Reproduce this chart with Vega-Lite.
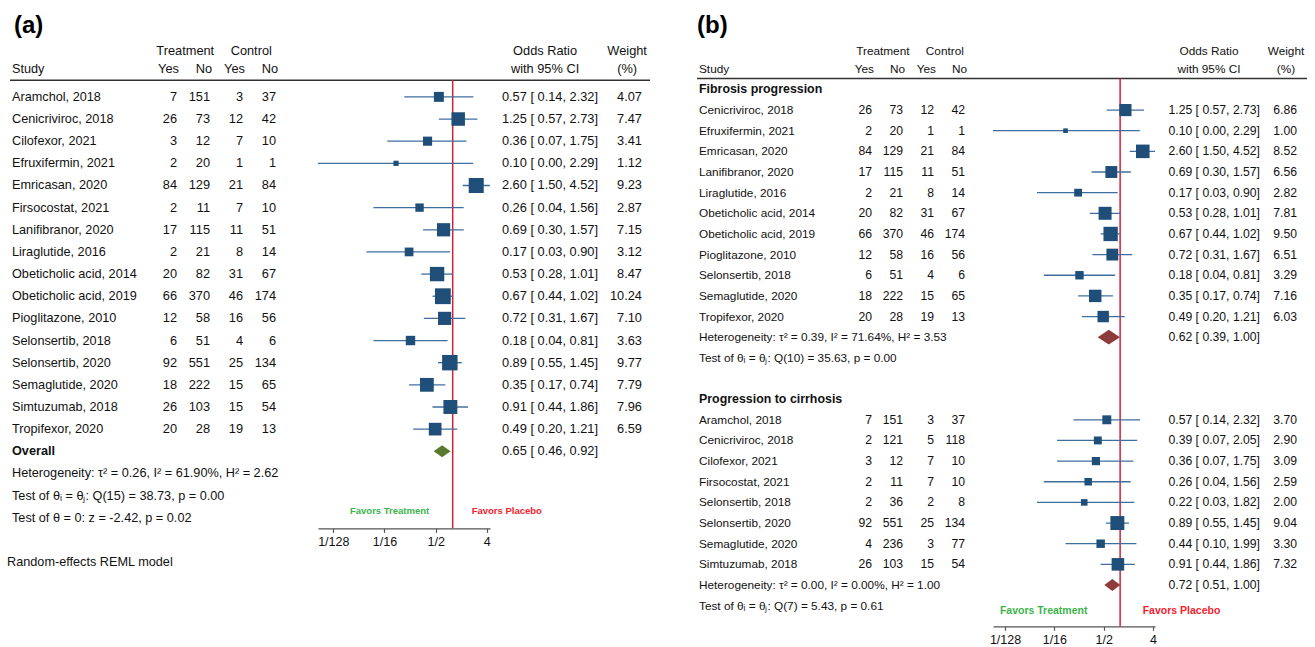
{
"$schema":"https://vega.github.io/schema/vega-lite/v6.json",
"padding":{"left":7,"top":13.5,"right":0,"bottom":0},
"background":"white",
"spacing":45,
"resolve":{"scale":{"size":"independent","color":"independent"}},
"config":{"font":"Liberation Sans","view":{"stroke":null},"text":{"font":"Liberation Sans","color":"#111"},
"title":{"font":"Liberation Sans","fontSize":24,"fontWeight":"bold","anchor":"start","color":"#000","frame":"group"},
"axis":{"labelFont":"Liberation Sans","labelFontSize":12.5,"labelColor":"#111","domainColor":"#555","tickColor":"#555","tickSize":4,"grid":false,"labelPadding":3,"domainWidth":1.2,"tickWidth":1.2}},
"datasets":{
"a":[
{"row":0,"type":"study","label":"Aramchol, 2018","tYes":7,"tNo":151,"cYes":3,"cNo":37,"est":0.57,"lo":0.14,"hi":2.32,"w":4.07},
{"row":1,"type":"study","label":"Cenicriviroc, 2018","tYes":26,"tNo":73,"cYes":12,"cNo":42,"est":1.25,"lo":0.57,"hi":2.73,"w":7.47},
{"row":2,"type":"study","label":"Cilofexor, 2021","tYes":3,"tNo":12,"cYes":7,"cNo":10,"est":0.36,"lo":0.07,"hi":1.75,"w":3.41},
{"row":3,"type":"study","label":"Efruxifermin, 2021","tYes":2,"tNo":20,"cYes":1,"cNo":1,"est":0.10,"lo":0.004,"hi":2.29,"w":1.12},
{"row":4,"type":"study","label":"Emricasan, 2020","tYes":84,"tNo":129,"cYes":21,"cNo":84,"est":2.60,"lo":1.50,"hi":4.52,"w":9.23},
{"row":5,"type":"study","label":"Firsocostat, 2021","tYes":2,"tNo":11,"cYes":7,"cNo":10,"est":0.26,"lo":0.04,"hi":1.56,"w":2.87},
{"row":6,"type":"study","label":"Lanifibranor, 2020","tYes":17,"tNo":115,"cYes":11,"cNo":51,"est":0.69,"lo":0.30,"hi":1.57,"w":7.15},
{"row":7,"type":"study","label":"Liraglutide, 2016","tYes":2,"tNo":21,"cYes":8,"cNo":14,"est":0.17,"lo":0.03,"hi":0.90,"w":3.12},
{"row":8,"type":"study","label":"Obeticholic acid, 2014","tYes":20,"tNo":82,"cYes":31,"cNo":67,"est":0.53,"lo":0.28,"hi":1.01,"w":8.47},
{"row":9,"type":"study","label":"Obeticholic acid, 2019","tYes":66,"tNo":370,"cYes":46,"cNo":174,"est":0.67,"lo":0.44,"hi":1.02,"w":10.24},
{"row":10,"type":"study","label":"Pioglitazone, 2010","tYes":12,"tNo":58,"cYes":16,"cNo":56,"est":0.72,"lo":0.31,"hi":1.67,"w":7.10},
{"row":11,"type":"study","label":"Selonsertib, 2018","tYes":6,"tNo":51,"cYes":4,"cNo":6,"est":0.18,"lo":0.04,"hi":0.81,"w":3.63},
{"row":12,"type":"study","label":"Selonsertib, 2020","tYes":92,"tNo":551,"cYes":25,"cNo":134,"est":0.89,"lo":0.55,"hi":1.45,"w":9.77},
{"row":13,"type":"study","label":"Semaglutide, 2020","tYes":18,"tNo":222,"cYes":15,"cNo":65,"est":0.35,"lo":0.17,"hi":0.74,"w":7.79},
{"row":14,"type":"study","label":"Simtuzumab, 2018","tYes":26,"tNo":103,"cYes":15,"cNo":54,"est":0.91,"lo":0.44,"hi":1.86,"w":7.96},
{"row":15,"type":"study","label":"Tropifexor, 2020","tYes":20,"tNo":28,"cYes":19,"cNo":13,"est":0.49,"lo":0.20,"hi":1.21,"w":6.59},
{"row":16,"type":"overall","label":"Overall","est":0.65,"lo":0.46,"hi":0.92},
{"row":17,"type":"note","label":"Heterogeneity: τ² = 0.26, I² = 61.90%, H² = 2.62"},
{"row":18,"type":"note","label":"Test of θᵢ = θⱼ: Q(15) = 38.73, p = 0.00"},
{"row":19,"type":"note","label":"Test of θ = 0: z = -2.42, p = 0.02"},
{"row":21,"type":"model","label":"Random-effects REML model"}
],
"b":[
{"row":0,"type":"group","label":"Fibrosis progression"},
{"row":1,"type":"study","label":"Cenicriviroc, 2018","tYes":26,"tNo":73,"cYes":12,"cNo":42,"est":1.25,"lo":0.57,"hi":2.73,"w":6.86},
{"row":2,"type":"study","label":"Efruxifermin, 2021","tYes":2,"tNo":20,"cYes":1,"cNo":1,"est":0.10,"lo":0.004,"hi":2.29,"w":1.00},
{"row":3,"type":"study","label":"Emricasan, 2020","tYes":84,"tNo":129,"cYes":21,"cNo":84,"est":2.60,"lo":1.50,"hi":4.52,"w":8.52},
{"row":4,"type":"study","label":"Lanifibranor, 2020","tYes":17,"tNo":115,"cYes":11,"cNo":51,"est":0.69,"lo":0.30,"hi":1.57,"w":6.56},
{"row":5,"type":"study","label":"Liraglutide, 2016","tYes":2,"tNo":21,"cYes":8,"cNo":14,"est":0.17,"lo":0.03,"hi":0.90,"w":2.82},
{"row":6,"type":"study","label":"Obeticholic acid, 2014","tYes":20,"tNo":82,"cYes":31,"cNo":67,"est":0.53,"lo":0.28,"hi":1.01,"w":7.81},
{"row":7,"type":"study","label":"Obeticholic acid, 2019","tYes":66,"tNo":370,"cYes":46,"cNo":174,"est":0.67,"lo":0.44,"hi":1.02,"w":9.50},
{"row":8,"type":"study","label":"Pioglitazone, 2010","tYes":12,"tNo":58,"cYes":16,"cNo":56,"est":0.72,"lo":0.31,"hi":1.67,"w":6.51},
{"row":9,"type":"study","label":"Selonsertib, 2018","tYes":6,"tNo":51,"cYes":4,"cNo":6,"est":0.18,"lo":0.04,"hi":0.81,"w":3.29},
{"row":10,"type":"study","label":"Semaglutide, 2020","tYes":18,"tNo":222,"cYes":15,"cNo":65,"est":0.35,"lo":0.17,"hi":0.74,"w":7.16},
{"row":11,"type":"study","label":"Tropifexor, 2020","tYes":20,"tNo":28,"cYes":19,"cNo":13,"est":0.49,"lo":0.20,"hi":1.21,"w":6.03},
{"row":12,"type":"sub","label":"Heterogeneity: τ² = 0.39, I² = 71.64%, H² = 3.53","est":0.62,"lo":0.39,"hi":1.00},
{"row":13,"type":"note","label":"Test of θᵢ = θⱼ: Q(10) = 35.63, p = 0.00"},
{"row":15,"type":"group","label":"Progression to cirrhosis"},
{"row":16,"type":"study","label":"Aramchol, 2018","tYes":7,"tNo":151,"cYes":3,"cNo":37,"est":0.57,"lo":0.14,"hi":2.32,"w":3.70},
{"row":17,"type":"study","label":"Cenicriviroc, 2018","tYes":2,"tNo":121,"cYes":5,"cNo":118,"est":0.39,"lo":0.07,"hi":2.05,"w":2.90},
{"row":18,"type":"study","label":"Cilofexor, 2021","tYes":3,"tNo":12,"cYes":7,"cNo":10,"est":0.36,"lo":0.07,"hi":1.75,"w":3.09},
{"row":19,"type":"study","label":"Firsocostat, 2021","tYes":2,"tNo":11,"cYes":7,"cNo":10,"est":0.26,"lo":0.04,"hi":1.56,"w":2.59},
{"row":20,"type":"study","label":"Selonsertib, 2018","tYes":2,"tNo":36,"cYes":2,"cNo":8,"est":0.22,"lo":0.03,"hi":1.82,"w":2.00},
{"row":21,"type":"study","label":"Selonsertib, 2020","tYes":92,"tNo":551,"cYes":25,"cNo":134,"est":0.89,"lo":0.55,"hi":1.45,"w":9.04},
{"row":22,"type":"study","label":"Semaglutide, 2020","tYes":4,"tNo":236,"cYes":3,"cNo":77,"est":0.44,"lo":0.10,"hi":1.99,"w":3.30},
{"row":23,"type":"study","label":"Simtuzumab, 2018","tYes":26,"tNo":103,"cYes":15,"cNo":54,"est":0.91,"lo":0.44,"hi":1.86,"w":7.32},
{"row":24,"type":"sub","label":"Heterogeneity: τ² = 0.00, I² = 0.00%, H² = 1.00","est":0.72,"lo":0.51,"hi":1.00},
{"row":25,"type":"note","label":"Test of θᵢ = θⱼ: Q(7) = 5.43, p = 0.61"}
],
"favA":[{"h":"Favors Treatment","x":0.077},{"h":"Favors Placebo","x":9.0}],
"favB":[{"h":"Favors Treatment","x":0.0398},{"h":"Favors Placebo","x":13.3}],
"one":[{}]
},
"hconcat":[
{"title":{"text":"(a)","dx":4},"spacing":0,"bounds":"flush","resolve":{"scale":{"size":"independent","color":"independent"}},
"hconcat":[
{"width":134,"height":531.6,"layer":[
{"data":{"name":"a"},"transform":[{"filter":"datum.type=='study' || datum.type=='note'"}],"mark":{"type":"text","align":"left","baseline":"middle","fontSize":12.7,"dx":2},
"encoding":{"x":{"datum":0,"type":"quantitative","scale":{"domain":[0,1],"nice":false,"zero":false},"axis":null},"y":{"field":"row","type":"quantitative","scale":{"domain":[-2.5,21.5],"reverse":true,"nice":false,"zero":false},"axis":null},"text":{"field":"label"}}},
{"data":{"name":"a"},"transform":[{"filter":"datum.type=='overall'"}],"mark":{"type":"text","align":"left","baseline":"middle","fontSize":12.7,"fontWeight":"bold","dx":2},
"encoding":{"x":{"datum":0,"type":"quantitative","scale":{"domain":[0,1],"nice":false,"zero":false},"axis":null},"y":{"field":"row","type":"quantitative","scale":{"domain":[-2.5,21.5],"reverse":true,"nice":false,"zero":false},"axis":null},"text":{"field":"label"}}},
{"data":{"name":"a"},"transform":[{"filter":"datum.type=='model'"}],"mark":{"type":"text","align":"left","baseline":"middle","fontSize":12.7,"dx":-3},
"encoding":{"x":{"datum":0,"type":"quantitative","scale":{"domain":[0,1],"nice":false,"zero":false},"axis":null},"y":{"field":"row","type":"quantitative","scale":{"domain":[-2.5,21.5],"reverse":true,"nice":false,"zero":false},"axis":null},"text":{"field":"label"}}},
{"data":{"name":"one"},"mark":{"type":"text","align":"left","baseline":"middle","fontSize":12.7,"dx":2},
"encoding":{"x":{"datum":0,"type":"quantitative","scale":{"domain":[0,1],"nice":false,"zero":false},"axis":null},"y":{"datum":-1.24,"type":"quantitative","scale":{"domain":[-2.5,21.5],"reverse":true,"nice":false,"zero":false},"axis":null},"text":{"value":"Study"}}},
{"data":{"name":"one"},"mark":{"type":"rule","color":"#333","strokeWidth":1.5},
"encoding":{"y":{"datum":-0.745,"type":"quantitative","scale":{"domain":[-2.5,21.5],"reverse":true,"nice":false,"zero":false},"axis":null}}}
]},
{"width":174,"height":531.6,"layer":[
{"data":{"name":"a"},"transform":[{"filter":"datum.type=='study'"},{"fold":["tYes","tNo","cYes","cNo"],"as":["col","n"]}],"mark":{"type":"text","align":"right","baseline":"middle","fontSize":12.8},
"encoding":{"x":{"field":"col","type":"nominal","bandPosition":1,"scale":{"type":"band","domain":["tYes","tNo","cYes","cNo"],"paddingInner":0,"paddingOuter":0.636,"align":0},"axis":null},"y":{"field":"row","type":"quantitative","scale":{"domain":[-2.5,21.5],"reverse":true,"nice":false,"zero":false},"axis":null},"text":{"field":"n","type":"quantitative"}}},
{"data":{"values":[{"col":"tYes","h":"Yes"},{"col":"tNo","h":"No"},{"col":"cYes","h":"Yes"},{"col":"cNo","h":"No"}]},"mark":{"type":"text","align":"right","baseline":"middle","fontSize":12.8,"dx":2},
"encoding":{"x":{"field":"col","type":"nominal","bandPosition":1,"scale":{"type":"band","domain":["tYes","tNo","cYes","cNo"],"paddingInner":0,"paddingOuter":0.636,"align":0},"axis":null},"y":{"datum":-1.24,"type":"quantitative","scale":{"domain":[-2.5,21.5],"reverse":true,"nice":false,"zero":false},"axis":null},"text":{"field":"h"}}},
{"data":{"values":[{"col":"tNo","h":"Treatment"},{"col":"cNo","h":"Control"}]},"mark":{"type":"text","align":"center","baseline":"middle","fontSize":12.8},
"encoding":{"x":{"field":"col","type":"nominal","bandPosition":0.25,"scale":{"type":"band","domain":["tYes","tNo","cYes","cNo"],"paddingInner":0,"paddingOuter":0.636,"align":0},"axis":null},"y":{"datum":-2.05,"type":"quantitative","scale":{"domain":[-2.5,21.5],"reverse":true,"nice":false,"zero":false},"axis":null},"text":{"field":"h"}}},
{"data":{"name":"one"},"mark":{"type":"rule","color":"#333","strokeWidth":1.5},
"encoding":{"y":{"datum":-0.745,"type":"quantitative","scale":{"domain":[-2.5,21.5],"reverse":true,"nice":false,"zero":false},"axis":null}}}
]},
{"width":172,"height":486.86,"layer":[
{"data":{"name":"one"},"mark":{"type":"rule","color":"#333","strokeWidth":1.5},
"encoding":{"y":{"datum":-0.745,"type":"quantitative","scale":{"domain":[-2.5,19.48],"reverse":true,"nice":false,"zero":false},"axis":null}}},
{"data":{"name":"one"},"mark":{"type":"rule","color":"#d0213b","strokeWidth":1.5},
"encoding":{"x":{"datum":1,"type":"quantitative","scale":{"type":"log","base":2,"domain":[0.0042,4.55],"nice":false},"axis":{"values":[0.0078125,0.0625,0.5,4],"labelExpr":"datum.value < 0.01 ? '1/128' : (datum.value < 0.1 ? '1/16' : (datum.value < 1 ? '1/2' : '4'))","title":null,"labelFlush":false,"labelOverlap":false}},
"y":{"datum":-0.745,"type":"quantitative","scale":{"domain":[-2.5,19.48],"reverse":true,"nice":false,"zero":false},"axis":null},"y2":{"datum":19.48}}},
{"data":{"name":"a"},"transform":[{"filter":"datum.type=='study'"}],"mark":{"type":"rule","color":"#3f6e9e","strokeWidth":1.3,"clip":true},
"encoding":{"x":{"field":"lo","type":"quantitative","scale":{"type":"log","base":2,"domain":[0.0042,4.55],"nice":false}},"x2":{"field":"hi"},"y":{"field":"row","type":"quantitative","scale":{"domain":[-2.5,19.48],"reverse":true,"nice":false,"zero":false},"axis":null}}},
{"data":{"name":"a"},"transform":[{"filter":"datum.type=='study'"}],"mark":{"type":"point","shape":"square","filled":true,"opacity":1,"color":"#1f4e79"},
"encoding":{"x":{"field":"est","type":"quantitative","scale":{"type":"log","base":2,"domain":[0.0042,4.55],"nice":false}},"y":{"field":"row","type":"quantitative","scale":{"domain":[-2.5,19.48],"reverse":true,"nice":false,"zero":false},"axis":null},"size":{"field":"w","type":"quantitative","scale":{"domain":[0,10.24],"range":[0,250],"zero":true},"legend":null}}},
{"data":{"name":"a"},"transform":[{"filter":"datum.type=='overall'"}],"mark":{"type":"point","shape":"M-1,0L0,-0.7L1,0L0,0.7Z","filled":true,"opacity":1,"color":"#5b7a2e","size":289},
"encoding":{"x":{"field":"est","type":"quantitative","scale":{"type":"log","base":2,"domain":[0.0042,4.55],"nice":false}},"y":{"field":"row","type":"quantitative","scale":{"domain":[-2.5,19.48],"reverse":true,"nice":false,"zero":false},"axis":null}}},
{"data":{"name":"favA"},"mark":{"type":"text","fontSize":9.5,"fontWeight":"bold","baseline":"middle","align":"center"},
"encoding":{"x":{"field":"x","type":"quantitative","scale":{"type":"log","base":2,"domain":[0.0042,4.55],"nice":false}},"y":{"datum":18.71,"type":"quantitative","scale":{"domain":[-2.5,19.48],"reverse":true,"nice":false,"zero":false},"axis":null},"text":{"field":"h"},"color":{"field":"h","type":"nominal","scale":{"domain":["Favors Treatment","Favors Placebo"],"range":["#3ab54a","#f5222d"]},"legend":null}}}
]},
{"width":108,"height":531.6,"layer":[
{"data":{"name":"a"},"transform":[{"filter":"datum.type=='study' || datum.type=='overall'"},{"calculate":"format(datum.est,'.2f') + ' [  ' + format(datum.lo,'.2f') + ',  ' + format(datum.hi,'.2f') + ']'","as":"ci"}],"mark":{"type":"text","align":"right","baseline":"middle","fontSize":12.8},
"encoding":{"x":{"datum":1,"type":"quantitative","scale":{"domain":[0,1],"nice":false,"zero":false},"axis":null},"y":{"field":"row","type":"quantitative","scale":{"domain":[-2.5,21.5],"reverse":true,"nice":false,"zero":false},"axis":null},"text":{"field":"ci"}}},
{"data":{"values":[{"h":"Odds Ratio","r":-2.05},{"h":"with 95% CI","r":-1.24}]},"mark":{"type":"text","align":"center","baseline":"middle","fontSize":12.8},
"encoding":{"x":{"datum":0.51,"type":"quantitative","scale":{"domain":[0,1],"nice":false,"zero":false},"axis":null},"y":{"field":"r","type":"quantitative","scale":{"domain":[-2.5,21.5],"reverse":true,"nice":false,"zero":false},"axis":null},"text":{"field":"h"}}},
{"data":{"name":"one"},"mark":{"type":"rule","color":"#333","strokeWidth":1.5},
"encoding":{"y":{"datum":-0.745,"type":"quantitative","scale":{"domain":[-2.5,21.5],"reverse":true,"nice":false,"zero":false},"axis":null}}}
]},
{"width":52,"height":531.6,"layer":[
{"data":{"name":"a"},"transform":[{"filter":"datum.type=='study'"}],"mark":{"type":"text","align":"right","baseline":"middle","fontSize":12.8},
"encoding":{"x":{"datum":0.846,"type":"quantitative","scale":{"domain":[0,1],"nice":false,"zero":false},"axis":null},"y":{"field":"row","type":"quantitative","scale":{"domain":[-2.5,21.5],"reverse":true,"nice":false,"zero":false},"axis":null},"text":{"field":"w","type":"quantitative","format":".2f"}}},
{"data":{"values":[{"h":"Weight","r":-2.05},{"h":"(%)","r":-1.24}]},"mark":{"type":"text","align":"center","baseline":"middle","fontSize":12.8},
"encoding":{"x":{"datum":0.56,"type":"quantitative","scale":{"domain":[0,1],"nice":false,"zero":false},"axis":null},"y":{"field":"r","type":"quantitative","scale":{"domain":[-2.5,21.5],"reverse":true,"nice":false,"zero":false},"axis":null},"text":{"field":"h"}}},
{"data":{"name":"one"},"mark":{"type":"rule","color":"#333","strokeWidth":1.5},
"encoding":{"y":{"datum":-0.745,"type":"quantitative","scale":{"domain":[-2.5,21.5],"reverse":true,"nice":false,"zero":false},"axis":null}}}
]}
]},
{"title":{"text":"(b)","dx":0},"spacing":0,"bounds":"flush","resolve":{"scale":{"size":"independent","color":"independent"}},
"hconcat":[
{"width":144,"height":584.8,"layer":[
{"data":{"name":"b"},"transform":[{"filter":"datum.type=='study'"}],"mark":{"type":"text","align":"left","baseline":"middle","fontSize":11.8,"dx":2},
"encoding":{"x":{"datum":0,"type":"quantitative","scale":{"domain":[0,1],"nice":false,"zero":false},"axis":null},"y":{"field":"row","type":"quantitative","scale":{"domain":[-2.32,26.0],"reverse":true,"nice":false,"zero":false},"axis":null},"text":{"field":"label"}}},
{"data":{"name":"b"},"transform":[{"filter":"datum.type=='sub' || datum.type=='note'"}],"mark":{"type":"text","align":"left","baseline":"middle","fontSize":11.8,"dx":2},
"encoding":{"x":{"datum":0,"type":"quantitative","scale":{"domain":[0,1],"nice":false,"zero":false},"axis":null},"y":{"field":"row","type":"quantitative","scale":{"domain":[-2.32,26.0],"reverse":true,"nice":false,"zero":false},"axis":null},"text":{"field":"label"}}},
{"data":{"name":"b"},"transform":[{"filter":"datum.type=='group'"}],"mark":{"type":"text","align":"left","baseline":"middle","fontSize":12.4,"fontWeight":"bold","dx":2},
"encoding":{"x":{"datum":0,"type":"quantitative","scale":{"domain":[0,1],"nice":false,"zero":false},"axis":null},"y":{"field":"row","type":"quantitative","scale":{"domain":[-2.32,26.0],"reverse":true,"nice":false,"zero":false},"axis":null},"text":{"field":"label"}}},
{"data":{"name":"one"},"mark":{"type":"text","align":"left","baseline":"middle","fontSize":11.8,"dx":2},
"encoding":{"x":{"datum":0,"type":"quantitative","scale":{"domain":[0,1],"nice":false,"zero":false},"axis":null},"y":{"datum":-1.0,"type":"quantitative","scale":{"domain":[-2.32,26.0],"reverse":true,"nice":false,"zero":false},"axis":null},"text":{"value":"Study"}}},
{"data":{"name":"one"},"mark":{"type":"rule","color":"#333","strokeWidth":1.5},
"encoding":{"y":{"datum":-0.53,"type":"quantitative","scale":{"domain":[-2.32,26.0],"reverse":true,"nice":false,"zero":false},"axis":null}}}
]},
{"width":152,"height":584.8,"layer":[
{"data":{"name":"b"},"transform":[{"filter":"datum.type=='study'"},{"fold":["tYes","tNo","cYes","cNo"],"as":["col","n"]}],"mark":{"type":"text","align":"right","baseline":"middle","fontSize":12.2},
"encoding":{"x":{"field":"col","type":"nominal","bandPosition":1,"scale":{"type":"band","domain":["tYes","tNo","cYes","cNo"],"paddingInner":0,"paddingOuter":0.4516,"align":0},"axis":null},"y":{"field":"row","type":"quantitative","scale":{"domain":[-2.32,26.0],"reverse":true,"nice":false,"zero":false},"axis":null},"text":{"field":"n","type":"quantitative"}}},
{"data":{"values":[{"col":"tYes","h":"Yes"},{"col":"tNo","h":"No"},{"col":"cYes","h":"Yes"},{"col":"cNo","h":"No"}]},"mark":{"type":"text","align":"right","baseline":"middle","fontSize":11.8,"dx":2},
"encoding":{"x":{"field":"col","type":"nominal","bandPosition":1,"scale":{"type":"band","domain":["tYes","tNo","cYes","cNo"],"paddingInner":0,"paddingOuter":0.4516,"align":0},"axis":null},"y":{"datum":-1.0,"type":"quantitative","scale":{"domain":[-2.32,26.0],"reverse":true,"nice":false,"zero":false},"axis":null},"text":{"field":"h"}}},
{"data":{"values":[{"col":"tNo","h":"Treatment"},{"col":"cNo","h":"Control"}]},"mark":{"type":"text","align":"center","baseline":"middle","fontSize":11.8},
"encoding":{"x":{"field":"col","type":"nominal","bandPosition":0.35,"scale":{"type":"band","domain":["tYes","tNo","cYes","cNo"],"paddingInner":0,"paddingOuter":0.4516,"align":0},"axis":null},"y":{"datum":-1.84,"type":"quantitative","scale":{"domain":[-2.32,26.0],"reverse":true,"nice":false,"zero":false},"axis":null},"text":{"field":"h"}}},
{"data":{"name":"one"},"mark":{"type":"rule","color":"#333","strokeWidth":1.5},
"encoding":{"y":{"datum":-0.53,"type":"quantitative","scale":{"domain":[-2.32,26.0],"reverse":true,"nice":false,"zero":false},"axis":null}}}
]},
{"width":162,"height":584.8,"layer":[
{"data":{"name":"one"},"mark":{"type":"rule","color":"#333","strokeWidth":1.5},
"encoding":{"y":{"datum":-0.53,"type":"quantitative","scale":{"domain":[-2.32,26.0],"reverse":true,"nice":false,"zero":false},"axis":null}}},
{"data":{"name":"one"},"mark":{"type":"rule","color":"#d0213b","strokeWidth":1.5},
"encoding":{"x":{"datum":1,"type":"quantitative","scale":{"type":"log","base":2,"domain":[0.0047,4.35],"nice":false},"axis":{"values":[0.0078125,0.0625,0.5,4],"labelExpr":"datum.value < 0.01 ? '1/128' : (datum.value < 0.1 ? '1/16' : (datum.value < 1 ? '1/2' : '4'))","title":null,"labelFlush":false,"labelOverlap":false}},
"y":{"datum":-0.53,"type":"quantitative","scale":{"domain":[-2.32,26.0],"reverse":true,"nice":false,"zero":false},"axis":null},"y2":{"datum":26.0}}},
{"data":{"name":"b"},"transform":[{"filter":"datum.type=='study'"}],"mark":{"type":"rule","color":"#3f6e9e","strokeWidth":1.3,"clip":true},
"encoding":{"x":{"field":"lo","type":"quantitative","scale":{"type":"log","base":2,"domain":[0.0047,4.35],"nice":false}},"x2":{"field":"hi"},"y":{"field":"row","type":"quantitative","scale":{"domain":[-2.32,26.0],"reverse":true,"nice":false,"zero":false},"axis":null}}},
{"data":{"name":"b"},"transform":[{"filter":"datum.type=='study'"}],"mark":{"type":"point","shape":"square","filled":true,"opacity":1,"color":"#1f4e79"},
"encoding":{"x":{"field":"est","type":"quantitative","scale":{"type":"log","base":2,"domain":[0.0047,4.35],"nice":false}},"y":{"field":"row","type":"quantitative","scale":{"domain":[-2.32,26.0],"reverse":true,"nice":false,"zero":false},"axis":null},"size":{"field":"w","type":"quantitative","scale":{"domain":[0,9.5],"range":[0,205],"zero":true},"legend":null}}},
{"data":{"name":"b"},"transform":[{"filter":"datum.type=='sub' && datum.row < 20"}],"mark":{"type":"point","shape":"M-1,0L0,-0.66L1,0L0,0.66Z","filled":true,"opacity":1,"color":"#8e3b3b","size":497},
"encoding":{"x":{"field":"est","type":"quantitative","scale":{"type":"log","base":2,"domain":[0.0047,4.35],"nice":false}},"y":{"field":"row","type":"quantitative","scale":{"domain":[-2.32,26.0],"reverse":true,"nice":false,"zero":false},"axis":null}}},
{"data":{"name":"b"},"transform":[{"filter":"datum.type=='sub' && datum.row > 20"}],"mark":{"type":"point","shape":"M-1,0L0,-0.75L1,0L0,0.75Z","filled":true,"opacity":1,"color":"#8e3b3b","size":256},
"encoding":{"x":{"field":"est","type":"quantitative","scale":{"type":"log","base":2,"domain":[0.0047,4.35],"nice":false}},"y":{"field":"row","type":"quantitative","scale":{"domain":[-2.32,26.0],"reverse":true,"nice":false,"zero":false},"axis":null}}},
{"data":{"name":"favB"},"mark":{"type":"text","fontSize":10.5,"fontWeight":"bold","baseline":"middle","align":"center"},
"encoding":{"x":{"field":"x","type":"quantitative","scale":{"type":"log","base":2,"domain":[0.0047,4.35],"nice":false}},"y":{"datum":25.28,"type":"quantitative","scale":{"domain":[-2.32,26.0],"reverse":true,"nice":false,"zero":false},"axis":null},"text":{"field":"h"},"color":{"field":"h","type":"nominal","scale":{"domain":["Favors Treatment","Favors Placebo"],"range":["#3ab54a","#f5222d"]},"legend":null}}}
]},
{"width":105,"height":584.8,"layer":[
{"data":{"name":"b"},"transform":[{"filter":"datum.type=='study' || datum.type=='sub'"},{"calculate":"format(datum.est,'.2f') + ' [  ' + format(datum.lo,'.2f') + ',  ' + format(datum.hi,'.2f') + ']'","as":"ci"}],"mark":{"type":"text","align":"right","baseline":"middle","fontSize":12.2},
"encoding":{"x":{"datum":1,"type":"quantitative","scale":{"domain":[0,1],"nice":false,"zero":false},"axis":null},"y":{"field":"row","type":"quantitative","scale":{"domain":[-2.32,26.0],"reverse":true,"nice":false,"zero":false},"axis":null},"text":{"field":"ci"}}},
{"data":{"values":[{"h":"Odds Ratio","r":-1.84},{"h":"with 95% CI","r":-1.0}]},"mark":{"type":"text","align":"center","baseline":"middle","fontSize":11.8},
"encoding":{"x":{"datum":0.514,"type":"quantitative","scale":{"domain":[0,1],"nice":false,"zero":false},"axis":null},"y":{"field":"r","type":"quantitative","scale":{"domain":[-2.32,26.0],"reverse":true,"nice":false,"zero":false},"axis":null},"text":{"field":"h"}}},
{"data":{"name":"one"},"mark":{"type":"rule","color":"#333","strokeWidth":1.5},
"encoding":{"y":{"datum":-0.53,"type":"quantitative","scale":{"domain":[-2.32,26.0],"reverse":true,"nice":false,"zero":false},"axis":null}}}
]},
{"width":47,"height":584.8,"layer":[
{"data":{"name":"b"},"transform":[{"filter":"datum.type=='study'"}],"mark":{"type":"text","align":"right","baseline":"middle","fontSize":12.2},
"encoding":{"x":{"datum":0.787,"type":"quantitative","scale":{"domain":[0,1],"nice":false,"zero":false},"axis":null},"y":{"field":"row","type":"quantitative","scale":{"domain":[-2.32,26.0],"reverse":true,"nice":false,"zero":false},"axis":null},"text":{"field":"w","type":"quantitative","format":".2f"}}},
{"data":{"values":[{"h":"Weight","r":-1.84},{"h":"(%)","r":-1.0}]},"mark":{"type":"text","align":"center","baseline":"middle","fontSize":11.8},
"encoding":{"x":{"datum":0.553,"type":"quantitative","scale":{"domain":[0,1],"nice":false,"zero":false},"axis":null},"y":{"field":"r","type":"quantitative","scale":{"domain":[-2.32,26.0],"reverse":true,"nice":false,"zero":false},"axis":null},"text":{"field":"h"}}},
{"data":{"name":"one"},"mark":{"type":"rule","color":"#333","strokeWidth":1.5},
"encoding":{"y":{"datum":-0.53,"type":"quantitative","scale":{"domain":[-2.32,26.0],"reverse":true,"nice":false,"zero":false},"axis":null}}}
]}
]}
]
}
